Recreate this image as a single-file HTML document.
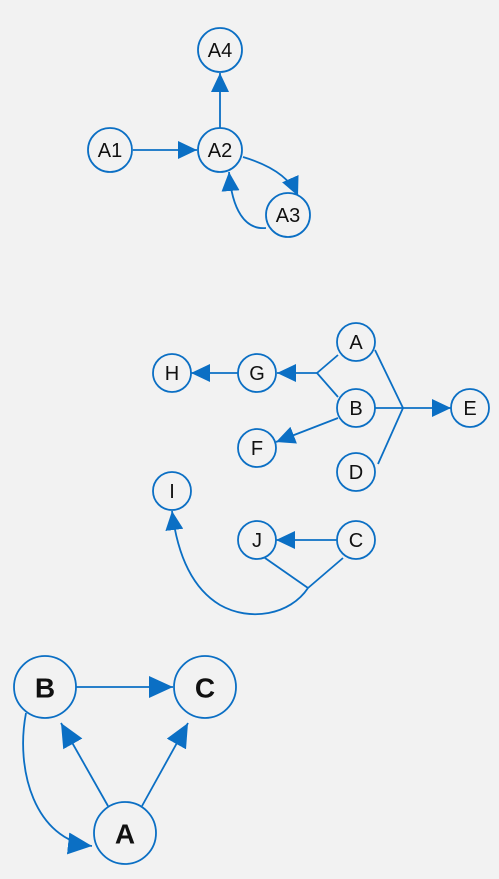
<!DOCTYPE html>
<html><head><style>
html,body{margin:0;padding:0;background:#f2f2f2;}
svg{display:block;}
text{font-family:"Liberation Sans","DejaVu Sans",sans-serif;fill:#111;text-anchor:middle;dominant-baseline:central;}
</style></head><body>
<svg width="499" height="879" viewBox="0 0 499 879" xmlns="http://www.w3.org/2000/svg">
<defs>
<marker id="a" markerUnits="userSpaceOnUse" markerWidth="20" markerHeight="18" refX="19" refY="9" orient="auto"><path d="M0,0 L19,9 L0,18 Z" fill="#0b6fc4"/></marker>
<marker id="b" markerUnits="userSpaceOnUse" markerWidth="26" markerHeight="22" refX="24" refY="11" orient="auto"><path d="M0,0 L24,11 L0,22 Z" fill="#0b6fc4"/></marker>
</defs>
<g fill="none" stroke="#0b6fc4" stroke-width="1.8">
<line x1="220" y1="128" x2="220" y2="73" marker-end="url(#a)"/>
<line x1="133" y1="150" x2="197" y2="150" marker-end="url(#a)"/>
<path d="M243,157 C270,165 290,178 298,196" marker-end="url(#a)"/>
<path d="M266,228 C245,230 232,210 229,172" marker-end="url(#a)"/>
<circle cx="220" cy="50" r="22" fill="#f2f2f2"/>
<circle cx="110" cy="150" r="22" fill="#f2f2f2"/>
<circle cx="220" cy="150" r="22" fill="#f2f2f2"/>
<circle cx="288" cy="215" r="22" fill="#f2f2f2"/>
<line x1="338" y1="355" x2="317" y2="373"/>
<line x1="338" y1="397" x2="317" y2="373"/>
<line x1="317" y1="373" x2="277" y2="373" marker-end="url(#a)"/>
<line x1="238" y1="373" x2="191" y2="373" marker-end="url(#a)"/>
<line x1="338" y1="418" x2="276" y2="442" marker-end="url(#a)"/>
<line x1="375" y1="408" x2="403" y2="408"/>
<line x1="375" y1="350" x2="403" y2="408"/>
<line x1="378" y1="464" x2="403" y2="408"/>
<line x1="403" y1="408" x2="451" y2="408" marker-end="url(#a)"/>
<line x1="337" y1="540" x2="276" y2="540" marker-end="url(#a)"/>
<line x1="265" y1="558" x2="308" y2="588"/>
<line x1="343" y1="558" x2="308" y2="588"/>
<path d="M308,588 C290,615 250,622 220,605 C195,590 178,560 172,511" marker-end="url(#a)"/>
<g fill="#f2f2f2">
<circle cx="356" cy="342" r="19"/><circle cx="257" cy="373" r="19"/><circle cx="172" cy="373" r="19"/>
<circle cx="356" cy="408" r="19"/><circle cx="257" cy="448" r="19"/><circle cx="356" cy="472" r="19"/>
<circle cx="470" cy="408" r="19"/><circle cx="172" cy="491" r="19"/><circle cx="257" cy="540" r="19"/>
<circle cx="356" cy="540" r="19"/>
</g>
<line x1="76" y1="687" x2="173" y2="687" marker-end="url(#b)"/>
<line x1="108" y1="806" x2="61" y2="723" marker-end="url(#b)"/>
<line x1="142" y1="806" x2="188" y2="723" marker-end="url(#b)"/>
<path d="M26,713 C15,770 35,840 92,846" marker-end="url(#b)"/>
<g fill="#f2f2f2">
<circle cx="45" cy="687" r="31"/><circle cx="205" cy="687" r="31"/><circle cx="125" cy="833" r="31"/>
</g>
</g>
<g font-size="20">
<text x="220" y="51">A4</text><text x="110" y="151">A1</text><text x="220" y="151">A2</text><text x="288" y="216">A3</text>
</g>
<g font-size="20">
<text x="356" y="343">A</text><text x="257" y="374">G</text><text x="172" y="374">H</text>
<text x="356" y="409">B</text><text x="257" y="449">F</text><text x="356" y="473">D</text>
<text x="470" y="409">E</text><text x="172" y="492">I</text><text x="257" y="541">J</text><text x="356" y="541">C</text>
</g>
<g font-size="28" font-weight="bold">
<text x="45" y="688">B</text><text x="205" y="688">C</text><text x="125" y="834">A</text>
</g>
</svg>
</body></html>
